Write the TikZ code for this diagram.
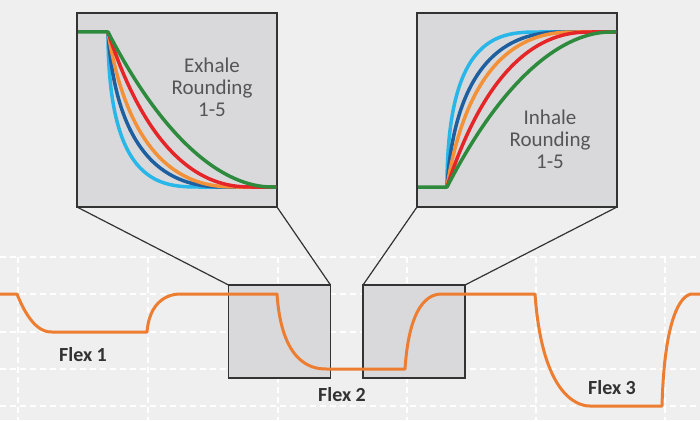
\documentclass[tikz,border=0pt]{standalone}
\usepackage{fontspec}
\setmainfont{Carlito}
\usepackage{tikz}
\definecolor{bgcolor}{RGB}{239,239,239}
\definecolor{boxgray}{RGB}{217,217,219}
\definecolor{boxline}{RGB}{51,51,51}
\definecolor{textgray}{RGB}{85,85,85}
\definecolor{labelgray}{RGB}{50,50,50}
\definecolor{flexorange}{RGB}{237,125,49}
\definecolor{rcyan}{RGB}{41,182,232}
\definecolor{rblue}{RGB}{30,95,160}
\definecolor{rorange}{RGB}{243,145,56}
\definecolor{rred}{RGB}{229,37,40}
\definecolor{rgreen}{RGB}{46,139,62}

\begin{document}
\begin{tikzpicture}[
            x = 1pt,
            y = -1pt,
            wave/.style = {draw=flexorange, line width=3pt, line join=round},
            gridline/.style = {draw=white, line width=1.3pt, dash pattern=on 6pt off 4pt},
            bigbox/.style = {draw=boxline, line width=1.8pt, fill=boxgray,
                             minimum width=200pt, minimum height=194pt,
                             inner sep=0pt, outer sep=0pt},
            zoombox/.style = {draw=boxline, line width=1.8pt, fill=boxgray,
                              minimum width=102pt, minimum height=93pt,
                              inner sep=0pt, outer sep=0pt},
            zoomline/.style = {draw=boxline, line width=1.2pt},
            rcurve/.style = {line width=3.5pt, line join=round},
            roundlabel/.style = {font=\fontsize{21}{22}\selectfont, text=textgray, align=center},
            flexlabel/.style = {font=\bfseries\fontsize{20}{22}\selectfont, text=labelgray}
        ]

        \fill[bgcolor] (0,0) rectangle (700,420);
        \useasboundingbox (0,0) rectangle (700,420);

        % grid
        \foreach \gy in {257,294,332,369,406}
            \draw[gridline] (0,\gy) -- (700,\gy);
        \foreach \gx in {18,148,278,407,536,665}
            \draw[gridline] (\gx,257) -- (\gx,420);

        \node[bigbox] (exhale) at (177,110) {};
        \node[bigbox] (inhale) at (517,110) {};
        \node[zoombox] (zoomex) at (279.5,331.5) {};
        \node[zoombox] (zoomin) at (414,331.5) {};

        \draw[zoomline] (exhale.south west) -- (zoomex.north west)
                        (exhale.south east) -- (zoomex.north east)
                        (inhale.south west) -- (zoomin.north west)
                        (inhale.south east) -- (zoomin.north east);

        % rounding 1-5
        \foreach \col/\a/\c/\d in {rcyan/0/54/93, rblue/10/88/120, rorange/25/100/130, rred/50/120/145}
        {
            \draw[rcurve, \col] (108,32) .. controls (108+\a,187) and (108+\c,187) .. (108+\d,187) -- (276,187);
            \draw[rcurve, \col] (447,187) .. controls (447+\a,32) and (447+\c,32) .. (447+\d,32) -- (616,32);
        }
        \draw[rcurve, rgreen] (78,32) -- (108,32) .. controls (188,187) and (258,187) .. (273,187) -- (276,187);
        \draw[rcurve, rgreen] (418,187) -- (447,187) .. controls (527,32) and (597,32) .. (612,32) -- (616,32);

        \node[roundlabel] (exhaletext) at (212,87) {Exhale\\Rounding\\1-5};
        \node[roundlabel] (inhaletext) at (550,139) {Inhale\\Rounding\\1-5};

        \draw[wave] (0,294) -- (17,294) .. controls (32,332) and (47,332) .. (52,332)
                    -- (147,332) .. controls (150,294) and (177,294) .. (180,294)
                    -- (277,294) .. controls (282,369) and (317,369) .. (327,369)
                    -- (405,369) .. controls (410,294) and (435,294) .. (443,294)
                    -- (535,294) .. controls (543,406) and (585,406) .. (590,406)
                    -- (662,406) .. controls (665,294) and (690,294) .. (692,294)
                    -- (700,294);

        \node[flexlabel] (flexone) at (83,355) {Flex 1};
        \node[flexlabel] (flextwo) at (342,395) {Flex 2};
        \node[flexlabel] (flexthree) at (612,388) {Flex 3};
    \end{tikzpicture}
\end{document}
